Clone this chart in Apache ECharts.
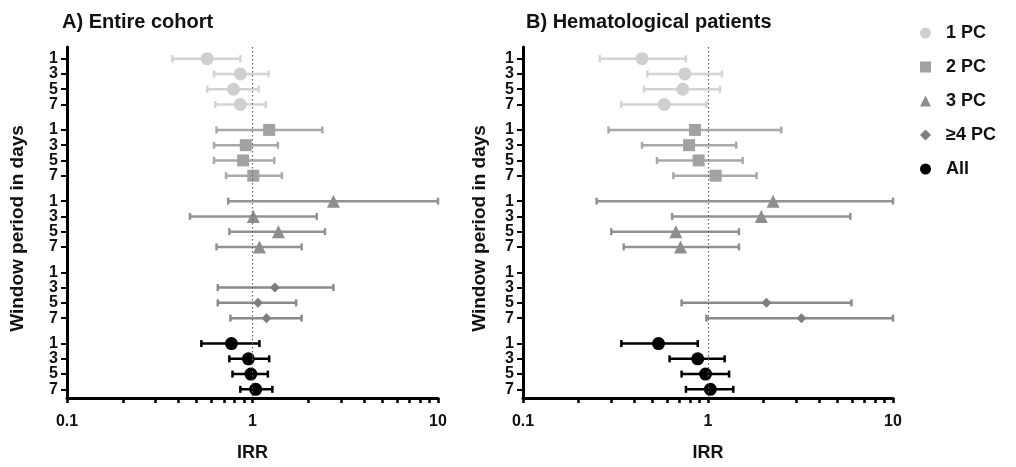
<!DOCTYPE html>
<html>
<head>
<meta charset="utf-8">
<script src="https://cdn.jsdelivr.net/npm/echarts@6/dist/echarts.min.js"></script>
<style>
  html, body { margin: 0; padding: 0; background: #fff; }
  #chart { width: 1016px; height: 467px; }
</style>
</head>
<body>
<div id="chart"></div>
<script>
// window periods (y tick labels) and patient groups
const windows = ['1', '3', '5', '7'];
const groups = ['1 PC', '2 PC', '3 PC', '≥4 PC', 'All'];
const majorTicks = [0.1, 1, 10];
const minorTicks = [0.2, 0.3, 0.4, 0.5, 0.6, 0.7, 0.8, 0.9, 2, 3, 4, 5, 6, 7, 8, 9];

// A) Entire cohort: IRR estimate, lower and upper CI, per group x window
const aEst = [
  [0.57, 0.86, 0.79, 0.86],
  [1.23, 0.92, 0.89, 1.01],
  [2.73, 1.01, 1.38, 1.09],
  [null, 1.32, 1.07, 1.19],
  [0.77, 0.95, 0.98, 1.04]
];
const aLow = [
  [0.37, 0.62, 0.57, 0.63],
  [0.64, 0.62, 0.62, 0.72],
  [0.74, 0.46, 0.75, 0.64],
  [null, 0.65, 0.65, 0.76],
  [0.53, 0.75, 0.78, 0.86]
];
const aHigh = [
  [0.86, 1.22, 1.08, 1.18],
  [2.38, 1.37, 1.31, 1.44],
  [10, 2.22, 2.46, 1.84],
  [null, 2.73, 1.72, 1.84],
  [1.09, 1.23, 1.21, 1.28]
];

// B) Hematological patients
const bEst = [
  [0.44, 0.75, 0.73, 0.58],
  [0.85, 0.79, 0.89, 1.10],
  [2.25, 1.94, 0.67, 0.71],
  [null, null, 2.07, 3.2],
  [0.54, 0.88, 0.97, 1.03]
];
const bLow = [
  [0.26, 0.47, 0.45, 0.34],
  [0.29, 0.44, 0.53, 0.65],
  [0.25, 0.64, 0.30, 0.35],
  [null, null, 0.72, 0.98],
  [0.34, 0.62, 0.72, 0.76]
];
const bHigh = [
  [0.76, 1.19, 1.16, 0.98],
  [2.49, 1.42, 1.54, 1.83],
  [10, 5.88, 1.47, 1.47],
  [null, null, 5.96, 10],
  [0.88, 1.23, 1.30, 1.37]
];

const markerColors = ['#cfcfcf', '#a2a2a2', '#8e8e8e', '#7e7e7e', '#000'];
const barColors = ['#d4d4d4', '#a9a9a9', '#929292', '#8a8a8a', '#000'];
const symbols = ['circle', 'rect', 'triangle', 'diamond', 'circle'];
const symbolSizes = [13, 12, 13, 10, 13];

// y position of each row (window w inside group g)
const yMax = 69;
const rowPos = (g, w) => 2.3 + g * 14 + w * 3;
const rowLabels = {};
// blank entries at both axis ends: they get hidden by showMin/MaxLabel:false
// so that the real first/last labels are not dropped by the overlap check
const yTickPositions = [0];
groups.forEach((_, g) => windows.forEach((lab, w) => {
  yTickPositions.push(rowPos(g, w));
  rowLabels[rowPos(g, w).toFixed(2)] = lab;
}));
yTickPositions.push(yMax);

const font = 'Liberation Sans, Arial, sans-serif';
const chart = echarts.init(document.getElementById('chart'));

const grids = [
  { left: 67, top: 47, width: 371, height: 355 },
  { left: 523, top: 47, width: 370, height: 355 }
];

function mainX(i) {
  return {
    type: 'log', logBase: 10, min: 0.1, max: 10, gridIndex: i, position: 'bottom',
    name: 'IRR', nameLocation: 'middle', nameGap: 46,
    nameTextStyle: { fontFamily: font, fontWeight: 'bold', fontSize: 18, color: '#111' },
    axisLine: { onZero: false, lineStyle: { color: '#000', width: 3 } },
    axisTick: { show: false },
    axisLabel: {
      customValues: majorTicks, margin: 16,
      fontFamily: font, fontWeight: 'bold', fontSize: 16, color: '#111',
      formatter: v => String(v)
    },
    splitLine: { show: false }
  };
}
function tickX(i) {
  return {
    type: 'log', logBase: 10, min: 0.1, max: 10, gridIndex: i, position: 'bottom',
    axisLine: { show: false, onZero: false },
    axisTick: { show: true, inside: false, customValues: majorTicks.concat(minorTicks), length: 5,
      lineStyle: { color: '#000', width: 2.5 } },
    axisLabel: { show: false },
    splitLine: { show: false }
  };
}
function yAx(i, gap) {
  return {
    type: 'value', inverse: true, min: 0, max: yMax, gridIndex: i,
    name: 'Window period in days', nameLocation: 'middle', nameGap: gap,
    nameTextStyle: { fontFamily: font, fontWeight: 'bold', fontSize: 19, color: '#111', padding: [0, 12, 0, 0] },
    axisLine: { show: true, onZero: false, lineStyle: { color: '#000', width: 3 } },
    axisTick: { show: true, customValues: yTickPositions, length: 6, lineStyle: { color: '#000', width: 2 } },
    axisLabel: {
      customValues: yTickPositions, margin: 9, showMinLabel: false, showMaxLabel: false,
      fontFamily: font, fontWeight: 'bold', fontSize: 16, lineHeight: 13, color: '#111',
      formatter: v => rowLabels[Number(v).toFixed(2)] || ''
    },
    splitLine: { show: false }
  };
}

function errorBars(est, low, high, g, panel) {
  const data = [];
  windows.forEach((_, w) => {
    if (est[g][w] != null) data.push([rowPos(g, w), low[g][w], high[g][w]]);
  });
  return {
    type: 'custom', name: groups[g], xAxisIndex: panel, yAxisIndex: panel,
    z: 2, silent: true,
    encode: { x: [1, 2], y: 0 },
    renderItem: (params, api) => {
      const y = api.value(0);
      const p1 = api.coord([api.value(1), y]);
      const p2 = api.coord([api.value(2), y]);
      const style = { stroke: barColors[g], lineWidth: 2.5 };
      const cap = 3.5;
      return {
        type: 'group',
        children: [
          { type: 'line', shape: { x1: p1[0], y1: p1[1], x2: p2[0], y2: p2[1] }, style },
          { type: 'line', shape: { x1: p1[0], y1: p1[1] - cap, x2: p1[0], y2: p1[1] + cap }, style },
          { type: 'line', shape: { x1: p2[0], y1: p2[1] - cap, x2: p2[0], y2: p2[1] + cap }, style }
        ]
      };
    },
    data
  };
}

function points(est, g, panel) {
  const data = [];
  windows.forEach((_, w) => {
    if (est[g][w] != null) data.push([est[g][w], rowPos(g, w)]);
  });
  const s = {
    type: 'scatter', name: groups[g], xAxisIndex: panel, yAxisIndex: panel,
    z: 3, symbol: symbols[g], symbolSize: symbolSizes[g],
    itemStyle: { color: markerColors[g], opacity: 1 },
    data
  };
  if (g === 0) {
    s.markLine = {
      silent: true, symbol: 'none', label: { show: false },
      lineStyle: { color: '#666', width: 1.2, type: [1.5, 2.5] },
      data: [{ xAxis: 1 }]
    };
  }
  return s;
}

const series = [];
[[aEst, aLow, aHigh], [bEst, bLow, bHigh]].forEach(([est, low, high], panel) => {
  groups.forEach((_, g) => {
    series.push(errorBars(est, low, high, g, panel));
    series.push(points(est, g, panel));
  });
});

chart.setOption({
  animation: false,
  backgroundColor: '#fff',
  title: [
    { text: 'A) Entire cohort', left: 57, top: 7,
      textStyle: { fontFamily: font, fontWeight: 'bold', fontSize: 20, color: '#111' } },
    { text: 'B) Hematological patients', left: 521, top: 7,
      textStyle: { fontFamily: font, fontWeight: 'bold', fontSize: 20, color: '#111' } }
  ],
  legend: {
    orient: 'vertical', left: 915, top: 19,
    itemWidth: 11, itemHeight: 11, itemGap: 16,
    selectedMode: false,
    textStyle: { fontFamily: font, fontWeight: 'bold', fontSize: 18, color: '#111', padding: [0, 0, 0, 10] },
    data: groups.map((name, g) => ({
      name, icon: symbols[g], itemStyle: { color: markerColors[g] }
    }))
  },
  grid: grids,
  xAxis: [mainX(0), mainX(1), tickX(0), tickX(1)],
  yAxis: [yAx(0, 40), yAx(1, 34)],
  series
});
</script>
</body>
</html>
